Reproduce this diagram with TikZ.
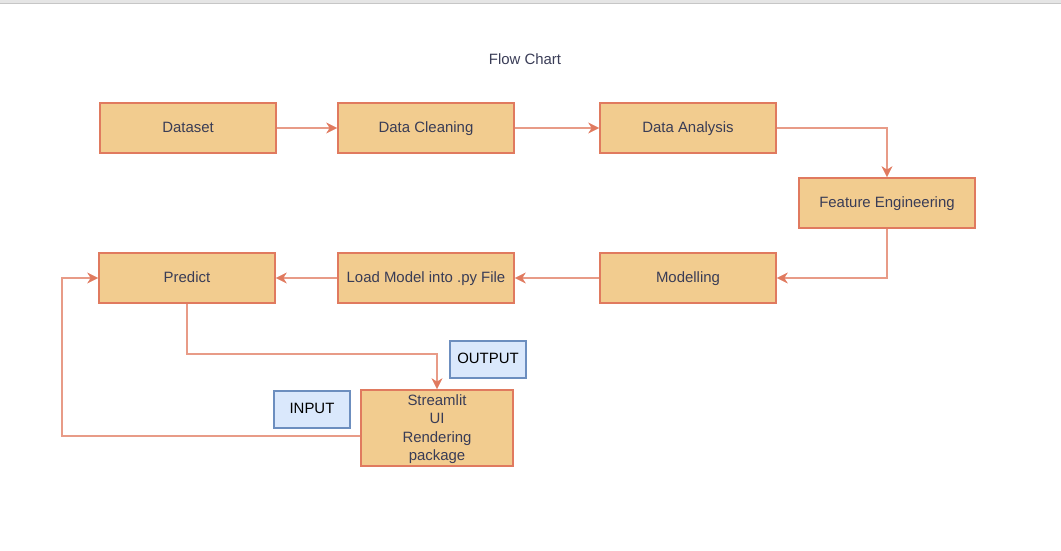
\documentclass[tikz,border=0pt]{standalone}
\usepackage{fontspec}
\setmainfont{Liberation Sans}
\usetikzlibrary{arrows.meta}
\definecolor{boxfill}{HTML}{F2CC8F}
\definecolor{boxline}{HTML}{E07A5F}
\definecolor{boxtext}{HTML}{393C56}
\definecolor{tagfill}{HTML}{DAE8FC}
\definecolor{tagline}{HTML}{6C8EBF}
\begin{document}
\begin{tikzpicture}[x=1bp,y=-1bp,
    stage/.style={draw=boxline,fill=boxfill,text=boxtext,line width=1.6bp,minimum width=176bp,minimum height=50bp,inner sep=0pt,text height=0.95em,text depth=0.1em,font=\fontsize{15}{18.5}\selectfont},
    tag/.style={draw=tagline,fill=tagfill,text=black,line width=1.6bp,minimum width=76bp,minimum height=37bp,inner sep=0pt,text height=0.95em,text depth=0.1em,font=\fontsize{15}{18.5}\selectfont},
    flow/.style={draw=boxline!75,line width=2bp,-{Stealth[length=11bp,width=11bp,inset=3.5bp,color=boxline,line width=0.5bp]}}]
      \useasboundingbox (0,0) rectangle (1061,551);
      \fill[gray!20] (0,0) rectangle (1061,3);
      \draw[gray!45] (0,3) -- (1061,3);
      \node[text=boxtext,font=\fontsize{15}{18.5}\selectfont,text height=0.95em,text depth=0.1em] (title) at (525,60) {Flow Chart};
      % top row
      \node[stage] (dataset) at (188,128) {Dataset};
      \node[stage] (cleaning) at (426,128) {Data Cleaning};
      \node[stage] (analysis) at (688,128) {Data Analysis};
      \node[stage] (feature) at (887,203) {Feature Engineering};
      % bottom row
      \node[stage] (modelling) at (688,278) {Modelling};
      \node[stage] (loadmodel) at (426,278) {Load Model into .py File};
      \node[stage] (predict) at (187,278) {Predict};
      \node[stage,minimum width=152bp,minimum height=76bp,align=center,text height=,text depth=] (streamlit) at (437,428) {\strut Streamlit\\UI\\Rendering\\package};
      \node[tag] (output) at (488,359.5) {OUTPUT};
      \node[tag] (input) at (312,409.5) {INPUT};
      \draw[flow] (dataset) -- (cleaning);
      \draw[flow] (cleaning) -- (analysis);
      \draw[flow] (analysis.east) -| (feature.north);
      \draw[flow] (feature.south) |- (modelling.east);
      \draw[flow] (modelling) -- (loadmodel);
      \draw[flow] (loadmodel) -- (predict);
      \draw[flow] (predict.south) -- ++(0,50) -| (streamlit.north);
      \draw[flow] (streamlit.west |- 0,436) -- (62,436) |- (predict.west);
    \end{tikzpicture}
\end{document}
